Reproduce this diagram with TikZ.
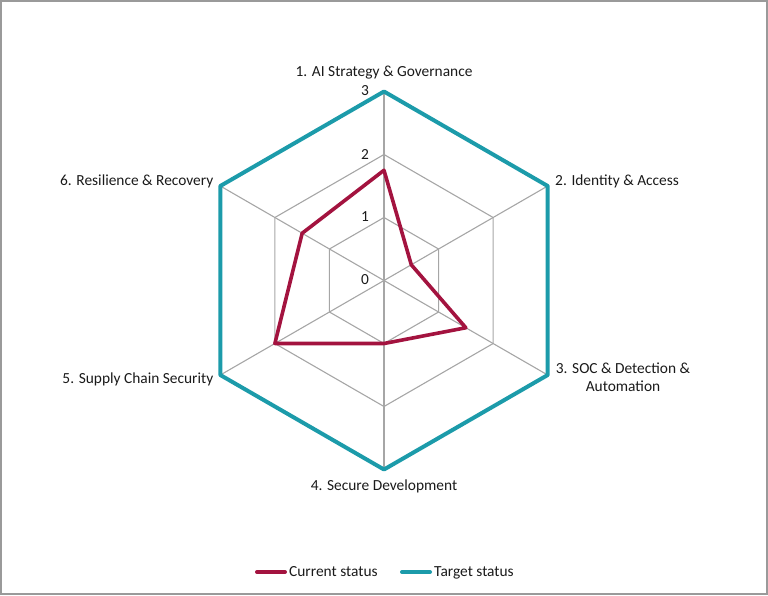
\documentclass[tikz,border=0pt]{standalone}
\usepackage{fontspec}
\setmainfont{Carlito}
\definecolor{cur}{HTML}{A3133F}
\definecolor{tgt}{HTML}{1C9BAA}
\definecolor{gridc}{HTML}{A6A6A6}
\definecolor{framec}{HTML}{9A9A9A}
\definecolor{txt}{HTML}{1A1A1A}
\begin{document}
\begin{tikzpicture}[x=1pt,y=1pt,
  gridline/.style={draw=gridc, line width=1.1pt},
  curline/.style={draw=cur, line width=3.6pt, line join=round},
  tgtline/.style={draw=tgt, line width=4pt, line join=round},
  legline/.style={line width=4pt, line cap=round, shorten >=4pt},
  lbl/.style={font=\fontsize{15.4}{18}\selectfont, text=txt, inner sep=0pt},
  scalelbl/.style={font=\fontsize{15.4}{18}\selectfont, text=txt, inner sep=0pt, anchor=east}]
\useasboundingbox (0,0) rectangle (768,-595);
\draw[draw=framec, line width=2pt] (1,-1) rectangle (767,-594);
\coordinate (O) at (384,-280.5);
% vertex coordinates for each ring
\foreach \r in {1,2,3}{
  \foreach \k in {1,...,6}{
    \pgfmathsetmacro{\ang}{150-60*\k}
    \path (O) ++(\ang:{63*\r}) coordinate (g\r-\k);
  }
}
% grid rings
\foreach \r in {1,2}{
  \draw[gridline] (g\r-1) -- (g\r-2) -- (g\r-3) -- (g\r-4) -- (g\r-5) -- (g\r-6) -- cycle;
}
% spokes
\foreach \k in {1,...,6}{ \draw[gridline] (O) -- (g3-\k); }
% target status
\draw[tgtline] (g3-1) -- (g3-2) -- (g3-3) -- (g3-4) -- (g3-5) -- (g3-6) -- cycle;
% current status
\path (O) ++(90:{63*1.75}) coordinate (c1);
\path (O) ++(30:{63*0.5}) coordinate (c2);
\path (O) ++(-30:{63*1.5}) coordinate (c3);
\path (O) ++(-90:{63*1.0}) coordinate (c4);
\path (O) ++(-150:{63*2.0}) coordinate (c5);
\path (O) ++(150:{63*1.5}) coordinate (c6);
\draw[curline] (c1) -- (c2) -- (c3) -- (c4) -- (c5) -- (c6) -- cycle;
% scale labels
\node[scalelbl] (s3) at (369,-91) {3};
\node[scalelbl] (s2) at (369,-154) {2};
\node[scalelbl] (s1) at (369,-217) {1};
\node[scalelbl] (s0) at (369,-280) {0};
% axis labels
\node[lbl, anchor=base] (a1) at (384,-76.5) {1. AI Strategy \& Governance};
\node[lbl, anchor=base west] (a2) at (555,-185.7) {2. Identity \& Access};
\node[lbl, anchor=north, align=center] (a3) at (623,-362.5) {3. SOC \& Detection \&\\Automation};
\node[lbl, anchor=base] (a4) at (384,-490) {4. Secure Development};
\node[lbl, anchor=base east] (a5) at (213.5,-383.4) {5. Supply Chain Security};
\node[lbl, anchor=base east] (a6) at (213.5,-185.7) {6. Resilience \& Recovery};
% legend
\node[lbl, anchor=base west] (lc) at (289,-576.5) {Current status};
\node[lbl, anchor=base west] (lt) at (434,-576.5) {Target status};
\coordinate (lc0) at (257,-572);
\coordinate (lt0) at (402,-572);
\draw[legline, draw=cur] (lc0) -- (lc0 -| lc.west);
\draw[legline, draw=tgt] (lt0) -- (lt0 -| lt.west);
\end{tikzpicture}
\end{document}
